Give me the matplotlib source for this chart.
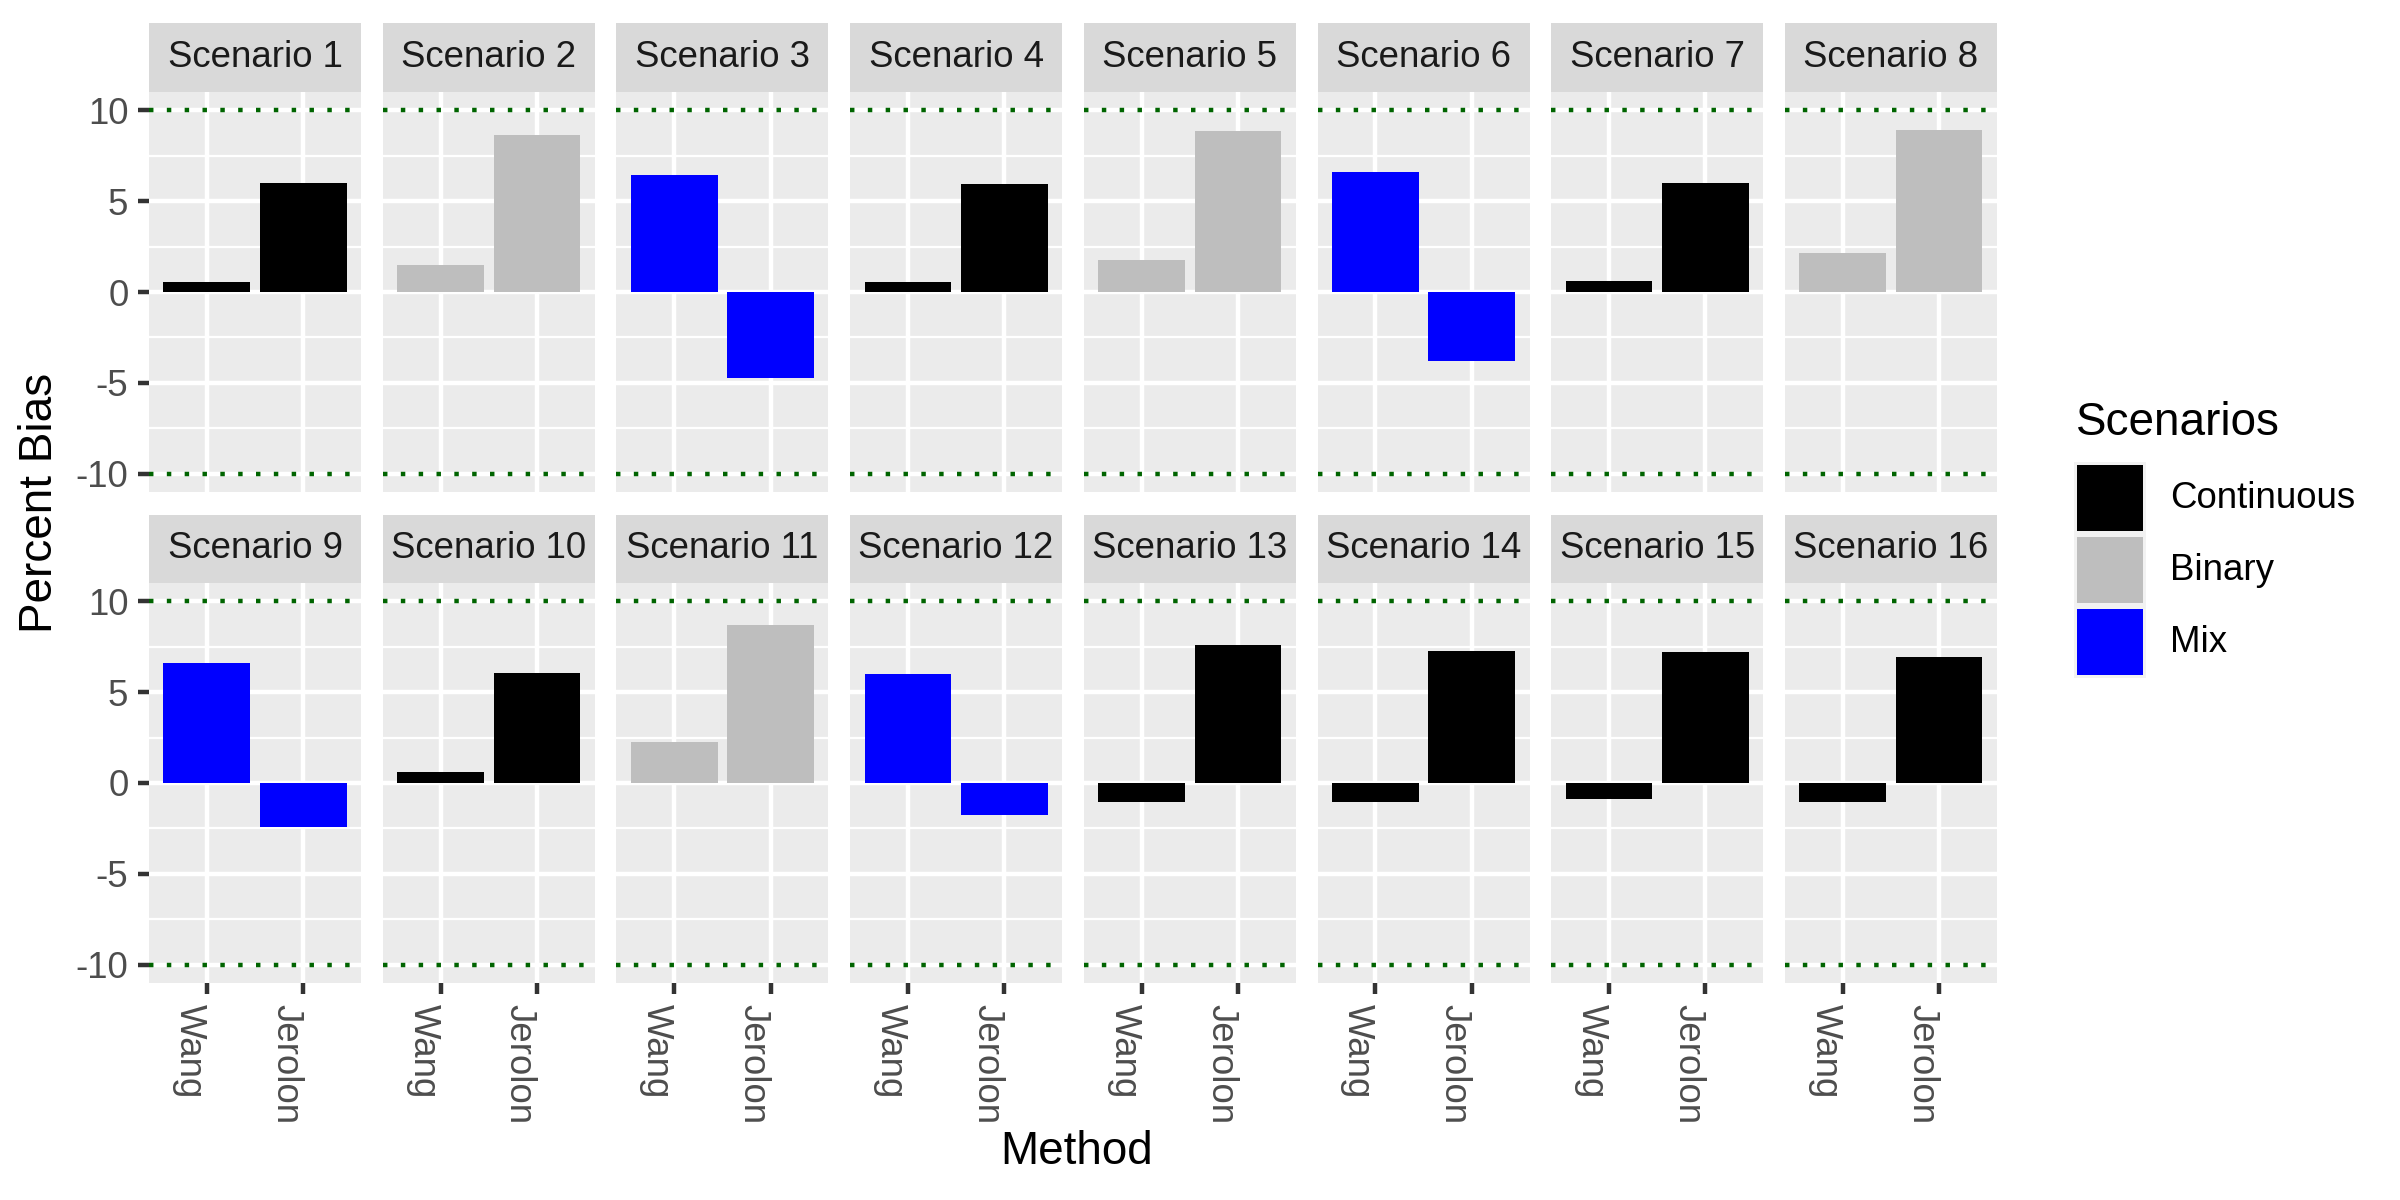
import matplotlib
matplotlib.use("Agg")
import matplotlib.pyplot as plt
from matplotlib.patches import Rectangle

# data
scenarios = ["Scenario %d" % i for i in range(1, 17)]
methods = ["Wang", "Jerolon"]
types = ["Continuous", "Binary", "Mix", "Continuous",
         "Binary", "Mix", "Continuous", "Binary",
         "Mix", "Continuous", "Binary", "Mix",
         "Continuous", "Continuous", "Continuous", "Continuous"]
wang = [0.53, 1.49, 6.44, 0.53, 1.76, 6.60, 0.60, 2.13,
        6.61, 0.61, 2.24, 5.97, -1.03, -1.03, -0.88, -1.03]
jerolon = [6.00, 8.64, -4.75, 5.94, 8.83, -3.80, 6.00, 8.92,
           -2.43, 6.07, 8.67, -1.74, 7.57, 7.27, 7.20, 6.93]
legend_order = ["Continuous", "Binary", "Mix"]
colors = {"Continuous": "#000000", "Binary": "#BEBEBE", "Mix": "#0000FF"}
limits = [-10, 10]
yticks = [-10, -5, 0, 5, 10]
minor_ticks = [-7.5, -2.5, 2.5, 7.5]

plt.rcParams['font.family'] = ['Liberation Sans', 'DejaVu Sans']

W, H = 2400, 1200
fig = plt.figure(figsize=(8, 4), dpi=300)

def fx(px):
    return px / W

def fy(py):
    return 1 - py / H

panel_w = 212
step = 233.7
left0 = 149
rows = [(23, 92, 492), (515, 583, 983)]

for i, name in enumerate(scenarios):
    r, c = divmod(i, 8)
    s_top, p_top, p_bot = rows[r]
    x0 = left0 + c * step

    # strip
    sax = fig.add_axes([fx(x0), fy(p_top), fx(panel_w), (p_top - s_top) / H])
    sax.set_facecolor("#D9D9D9")
    sax.set_xticks([])
    sax.set_yticks([])
    for sp in sax.spines.values():
        sp.set_visible(False)
    sax.text(0.5, 0.5, name, ha="center", va="center", fontsize=8.8,
             color="#1A1A1A", transform=sax.transAxes)

    # panel
    ax = fig.add_axes([fx(x0), fy(p_bot), fx(panel_w), (p_bot - p_top) / H])
    ax.set_facecolor("#EBEBEB")
    for sp in ax.spines.values():
        sp.set_visible(False)
    ax.set_xlim(0.4, 2.6)
    ax.set_ylim(-11, 11)
    for yv in yticks:
        ax.axhline(yv, color="white", lw=1.07, zorder=1)
    for yv in minor_ticks:
        ax.axhline(yv, color="white", lw=0.53, zorder=1)
    for xv in [1, 2]:
        ax.axvline(xv, color="white", lw=1.07, zorder=1)

    col = colors[types[i]]
    ax.bar([1, 2], [wang[i], jerolon[i]], width=0.9, color=col, zorder=2)

    for lv in limits:
        ax.axhline(lv, color="#006400", lw=1.07, linestyle=(0, (1, 3)), zorder=3)

    ax.set_yticks(yticks)
    ax.tick_params(axis="both", length=2.75, width=1.07, color="#333333",
                   labelcolor="#4D4D4D", labelsize=8.8, pad=2.2)
    if c == 0:
        ax.set_yticklabels([str(v) for v in yticks])
    else:
        ax.tick_params(axis="y", length=0, labelleft=False)

    ax.set_xticks([1, 2])
    if r == 1:
        ax.set_xticklabels(methods, rotation=270, ha="right", va="top")
    else:
        ax.tick_params(axis="x", length=0, labelbottom=False)

# axis titles
fig.text(fx(40), fy(503), "Percent Bias", rotation=90, ha="center", va="center",
         fontsize=11)
fig.text(fx(1077), fy(1152), "Method", ha="center", va="center", fontsize=11)

# legend
fig.text(fx(2076), fy(435), "Scenarios", ha="left", va="baseline", fontsize=11)
key_top = 465
fig.add_artist(Rectangle((fx(2074), fy(key_top + 3 * 72 - 3)), fx(72), (3 * 72) / H,
                         transform=fig.transFigure, facecolor="#F2F2F2",
                         edgecolor="none"))
for k, lab in enumerate(legend_order):
    top = key_top + k * 72
    fig.add_artist(Rectangle((fx(2077), fy(top + 66)), fx(66), 66 / H,
                             transform=fig.transFigure, facecolor=colors[lab],
                             edgecolor="none"))
    fig.text(fx(2170), fy(top + 33), lab, ha="left", va="center", fontsize=8.8,
             color="#000000")

fig.savefig("out.png", dpi=300, facecolor="white")
